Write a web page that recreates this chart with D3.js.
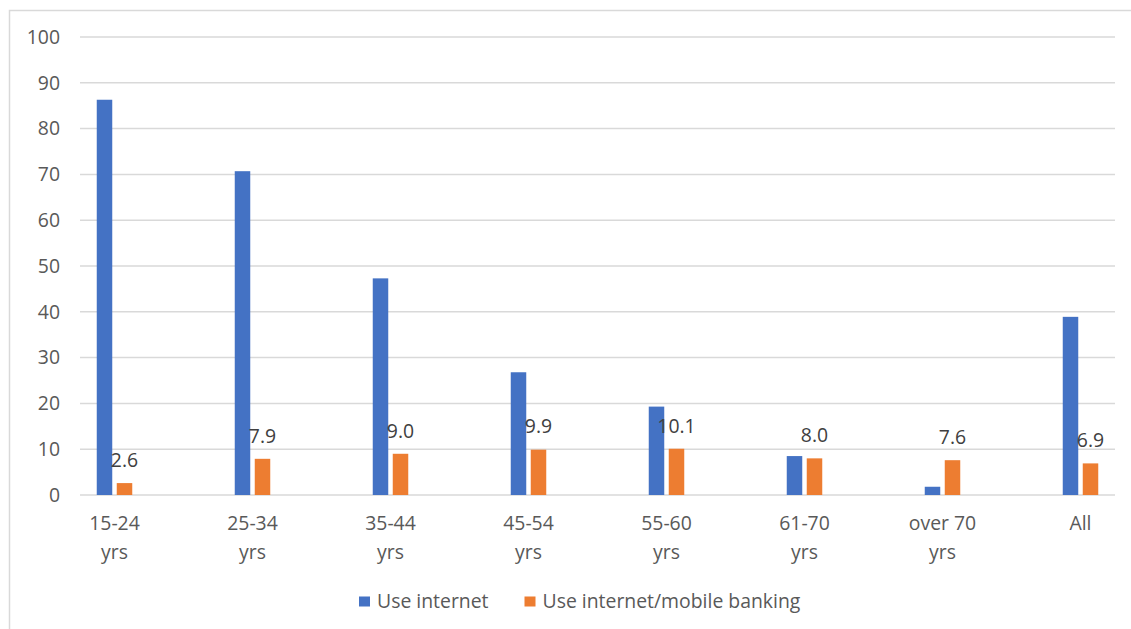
<html>
<head>
<meta charset="UTF-8">
<title>Internet use by age</title>
<style>
  body { margin: 0; background: #fff; }
  text { font-family: "Open Sans", "Noto Sans", sans-serif; fill: #595959; }
</style>
</head>
<body>
<script src="https://d3js.org/d3.v7.min.js"></script>
<div id="chart"></div>
<script>
// data
var categories = ["15-24|yrs", "25-34|yrs", "35-44|yrs", "45-54|yrs", "55-60|yrs", "61-70|yrs", "over 70|yrs", "All"];
var useInternet = [86.3, 70.7, 47.3, 26.8, 19.3, 8.5, 1.8, 38.9];
var useBanking = [2.6, 7.9, 9.0, 9.9, 10.1, 8.0, 7.6, 6.9];
var yTicks = [0, 10, 20, 30, 40, 50, 60, 70, 80, 90, 100];
var seriesNames = ["Use internet", "Use internet/mobile banking"];
var colors = ["#4472C4", "#ED7D31"];

var W = 1131, H = 629;
var fs = "19.4px";
var svg = d3.select("#chart").append("svg")
    .attr("width", W).attr("height", H);

// chart frame (only top and left show in the picture)
svg.append("path")
    .attr("d", "M9.5," + H + "V10.5H" + W)
    .attr("fill", "none")
    .attr("stroke", "#d9d9d9")
    .attr("stroke-width", 1.5);

var y = d3.scaleLinear().domain([0, 100]).range([495, 37]);
var x = d3.scalePoint().domain(categories).range([114.5, 1080.5]);
var gridLeft = 80, gridRight = 1115;
var barW = 15.5, gap = 4.5;

// gridlines
svg.append("g").selectAll("line")
    .data(yTicks).enter().append("line")
    .attr("x1", gridLeft).attr("x2", gridRight)
    .attr("y1", d => y(d)).attr("y2", d => y(d))
    .attr("stroke", "#d9d9d9").attr("stroke-width", 1.5);

// y axis labels
svg.append("g").selectAll("text")
    .data(yTicks).enter().append("text")
    .attr("x", 60).attr("y", d => y(d))
    .attr("dy", "0.35em")
    .attr("text-anchor", "end")
    .style("font-size", fs)
    .text(d => d);

// bars
var seriesData = [useInternet, useBanking];
seriesData.forEach(function(vals, s) {
    svg.append("g").selectAll("rect")
        .data(vals).enter().append("rect")
        .attr("x", (d, i) => s === 0 ? x(categories[i]) - gap / 2 - barW : x(categories[i]) + gap / 2)
        .attr("y", d => y(d))
        .attr("width", barW)
        .attr("height", d => y(0) - y(d))
        .attr("fill", colors[s]);
});

// data labels for banking series
svg.append("g").selectAll("text")
    .data(useBanking).enter().append("text")
    .attr("x", (d, i) => x(categories[i]) + gap / 2 + barW / 2)
    .attr("y", d => y(d) - 23)
    .attr("dy", "0.35em")
    .attr("text-anchor", "middle")
    .style("font-size", fs)
    .style("fill", "#404040")
    .text(d => d.toFixed(1));

// x labels (two lines)
var xl = svg.append("g").selectAll("text")
    .data(categories).enter().append("text")
    .attr("text-anchor", "middle")
    .style("font-size", fs);
xl.each(function(d) {
    var parts = d.split("|");
    var t = d3.select(this);
    parts.forEach(function(p, k) {
        t.append("tspan")
            .attr("x", x(d))
            .attr("y", 523 + k * 29)
            .attr("dy", "0.35em")
            .text(p);
    });
});

// legend
var legendX = [359, 524.5];
var lg = svg.append("g").selectAll("g")
    .data(seriesNames).enter().append("g")
    .attr("transform", (d, i) => "translate(" + legendX[i] + ",0)");
lg.append("rect")
    .attr("x", 0).attr("y", 596.5)
    .attr("width", 11).attr("height", 10)
    .attr("fill", (d, i) => colors[i]);
lg.append("text")
    .attr("x", 18).attr("y", 601)
    .attr("dy", "0.35em")
    .style("font-size", fs)
    .text(d => d);
</script>
</body>
</html>
